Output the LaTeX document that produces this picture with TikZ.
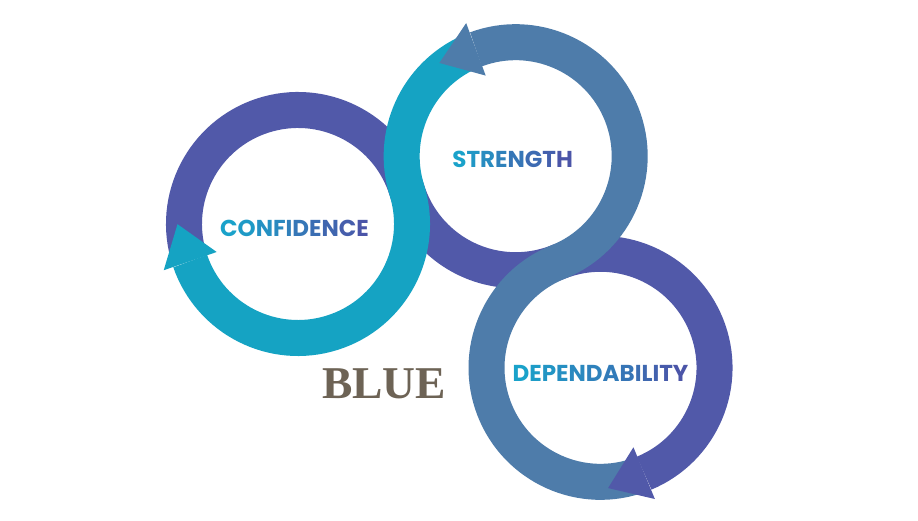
\documentclass[tikz,border=0pt]{standalone}
\usepackage{fontspec}
\usetikzlibrary{calc}
\newfontfamily\popfont{Poppins}
\newfontfamily\serfont{Liberation Serif}
\definecolor{purp}{HTML}{5159A9}
\definecolor{tealc}{HTML}{15A3C3}
\definecolor{steel}{HTML}{4E7CAA}
\definecolor{txA}{HTML}{1AA2CA}
\definecolor{txB}{HTML}{4B55A8}
\definecolor{bluetxt}{HTML}{6D6355}
\newcommand{\gl}[2]{\textcolor{txA!#1!txB}{#2}}
\begin{document}
\begin{tikzpicture}[x=1pt,y=1pt,
  band/.style={line width=36pt},
  lbl/.style={font=\popfont\bfseries\fontsize{23}{23}\selectfont, inner sep=0pt, anchor=center}]
\useasboundingbox[fill=white] (0,0) rectangle (918,521);
\coordinate (C1) at (298,297);
\coordinate (C2) at ($(C1)+(17.3:228pt)$);
\coordinate (C3) at ($(C2)+(-68.15:228pt)$);
% purple band
\draw[band, purp] ($(C1)+(195:114pt)$) arc[start angle=195, end angle=17.3, radius=114pt]
  arc[start angle=197.3, end angle=291.85, radius=114pt]
  arc[start angle=111.85, end angle=-67.5, radius=114pt];
% teal band
\draw[band, tealc] ($(C2)+(114:114pt)$) arc[start angle=114, end angle=197.3, radius=114pt]
  arc[start angle=17.3, end angle=-161, radius=114pt];
\fill[tealc] ($(C1)+(-161:86pt)$) -- ($(C1)+(-161:142pt)$) -- ($(C1)+(-179.9:120.5pt)$) -- cycle;
% steel band
\draw[band, steel] ($(C3)+(288:114pt)$) arc[start angle=288, end angle=111.85, radius=114pt]
  arc[start angle=291.85, end angle=470.4, radius=114pt];
\fill[steel] ($(C2)+(110.4:86pt)$) -- ($(C2)+(110.4:142pt)$) -- ($(C2)+(129.3:120.5pt)$) -- cycle;
% purple head
\fill[purp] ($(C3)+(-67.5:86pt)$) -- ($(C3)+(-67.5:142pt)$) -- ($(C3)+(-86.4:120.5pt)$) -- cycle;
% labels
\node[lbl] (conf) at ($(C1)+(-3.5,-4)$) {\gl{100}{C}\gl{89}{O}\gl{78}{N}\gl{67}{F}\gl{56}{I}\gl{44}{D}\gl{33}{E}\gl{22}{N}\gl{11}{C}\gl{0}{E}};
\node[lbl] (str) at ($(C2)+(-3,-3.5)$) {\gl{100}{S}\gl{86}{T}\gl{71}{R}\gl{57}{E}\gl{43}{N}\gl{29}{G}\gl{14}{T}\gl{0}{H}};
\node[lbl] (dep) at ($(C3)+(0,-6)$) {\gl{100}{D}\gl{92}{E}\gl{83}{P}\gl{75}{E}\gl{67}{N}\gl{58}{D}\gl{50}{A}\gl{42}{B}\gl{33}{I}\gl{25}{L}\gl{17}{I}\gl{8}{T}\gl{0}{Y}};
\node[font=\serfont\bfseries\fontsize{45.5}{45.5}\selectfont, text=bluetxt, inner sep=0pt] (blue) at (384,137) {BLUE};
\end{tikzpicture}
\end{document}
